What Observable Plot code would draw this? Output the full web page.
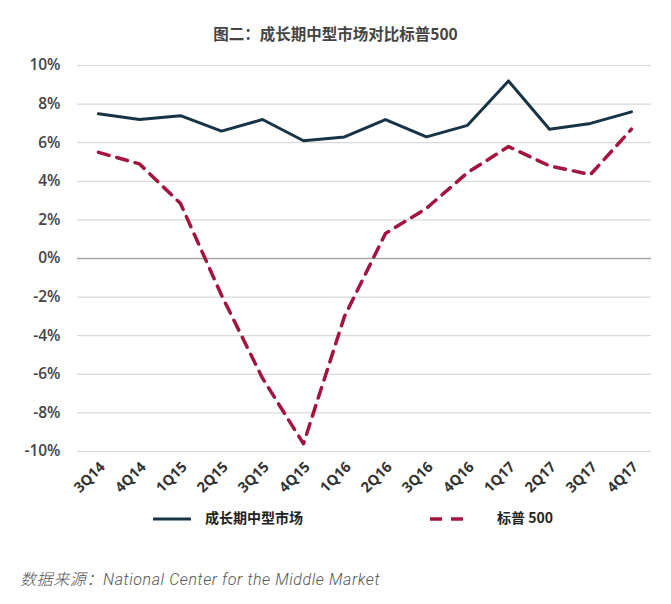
<!DOCTYPE html>
<html><head><meta charset="utf-8">
<script src="https://cdn.jsdelivr.net/npm/d3@7"></script>
<script src="https://cdn.jsdelivr.net/npm/@observablehq/plot@0.6"></script>
<style>
body{margin:0;background:#fff;width:671px;font-family:"Open Sans","Noto Sans CJK SC",sans-serif;}
#title{height:50px;line-height:66px;text-align:center;font-size:15.5px;font-weight:bold;color:#444;font-family:"Noto Sans CJK SC",sans-serif;}
#legend{position:relative;height:60px;font-family:"Noto Sans CJK SC",sans-serif;font-weight:bold;font-size:14px;color:#222;}
#caption{position:absolute;left:20px;top:566px;font-style:italic;font-weight:300;font-size:16px;letter-spacing:0.6px;color:#555;font-family:Roboto,"Noto Sans CJK SC",sans-serif;}
</style></head>
<body>
<div id="title">图二：成长期中型市场对比标普500</div>
<div id="chart"></div>
<div id="legend"></div>
<div id="caption">数据来源：National Center for the Middle Market</div>
<script>
const quarters = ["3Q14","4Q14","1Q15","2Q15","3Q15","4Q15","1Q16","2Q16","3Q16","4Q16","1Q17","2Q17","3Q17","4Q17"];
const midMarket = [7.5,7.2,7.4,6.6,7.2,6.1,6.3,7.2,6.3,6.9,9.2,6.7,7.0,7.6];
const sp500 = [5.5,4.9,2.85,-1.9,-6.2,-9.6,-3.0,1.3,2.6,4.45,5.8,4.8,4.35,6.7];
const yTicks = [-10,-8,-6,-4,-2,0,2,4,6,8,10];
const seriesNames = ["成长期中型市场","标普 500"];
const colors = ["#173446","#a3143f"];

const mm = quarters.map((q,i)=>({q, v: midMarket[i]}));
const sp = quarters.map((q,i)=>({q, v: sp500[i]}));

const chart = Plot.plot({
  width: 671,
  height: 450,
  marginTop: 15,
  marginBottom: 49,
  marginLeft: 77,
  marginRight: 20,
  style: {fontFamily: "'Open Sans', sans-serif", background: "#fff"},
  x: {type: "point", domain: quarters, padding: 0.5, label: null},
  y: {domain: [-10, 10], label: null},
  marks: [
    Plot.gridY(yTicks.filter(d=>d!==0), {stroke: "#d9d9d9", strokeOpacity: 1, strokeWidth: 1.2}),
    Plot.ruleY([0], {stroke: "#a6a6a6", strokeWidth: 1.5}),
    Plot.axisY(yTicks, {tickSize: 0, tickPadding: 17, tickFormat: d => d + "%", fontSize: 15.5, fontWeight: 600, fill: "#444", label: null}),
    Plot.axisX(quarters, {tickSize: 0, tickPadding: 13, dx: 4, tickRotate: -45, fontSize: 14.5, fontWeight: 700, fill: "#333", label: null}),
    Plot.line(sp, {x: "q", y: "v", stroke: colors[1], strokeWidth: 3.5, strokeDasharray: "11,8"}),
    Plot.line(mm, {x: "q", y: "v", stroke: colors[0], strokeWidth: 3})
  ]
});
document.getElementById("chart").appendChild(chart);

const legend = document.getElementById("legend");
const pos = [{left:153, textLeft:205}, {left:430, textLeft:497}];
seriesNames.forEach((name,i)=>{
  const sw = document.createElementNS("http://www.w3.org/2000/svg","svg");
  sw.setAttribute("width", 40); sw.setAttribute("height", 10);
  sw.style.position = "absolute"; sw.style.left = pos[i].left + "px"; sw.style.top = "14px";
  const ln = document.createElementNS("http://www.w3.org/2000/svg","line");
  ln.setAttribute("x1", 0); ln.setAttribute("x2", 38); ln.setAttribute("y1", 5); ln.setAttribute("y2", 5);
  ln.setAttribute("stroke", colors[i]); ln.setAttribute("stroke-width", i ? 3.5 : 3);
  if (i) ln.setAttribute("stroke-dasharray", "12,9");
  sw.appendChild(ln);
  legend.appendChild(sw);
  const t = document.createElement("div");
  t.textContent = name;
  t.style.position = "absolute"; t.style.left = pos[i].textLeft + "px"; t.style.top = "7px";
  legend.appendChild(t);
});
</script>
</body></html>
